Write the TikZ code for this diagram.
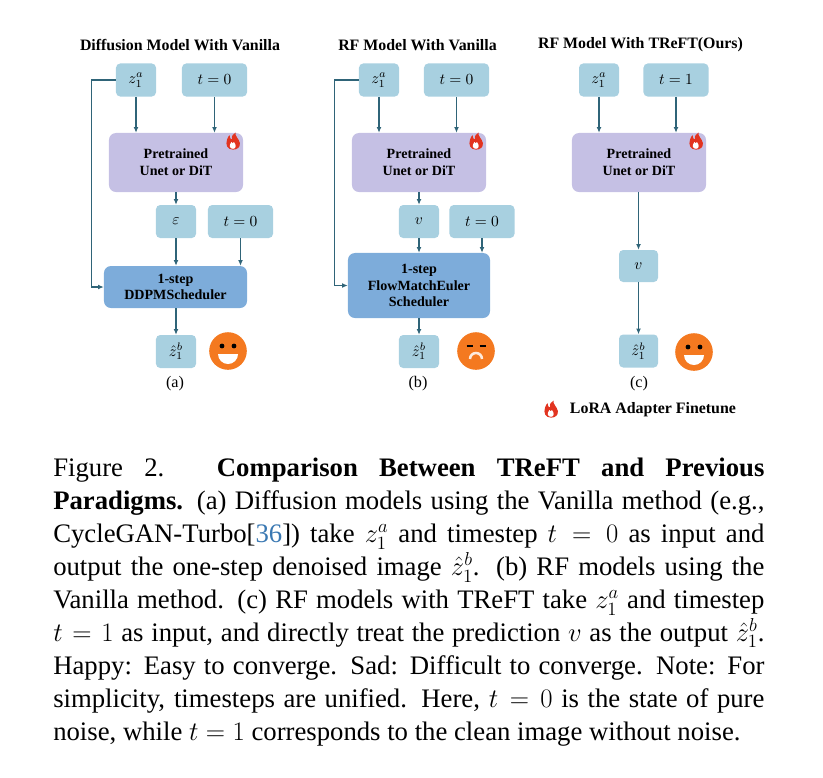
\RequirePackage{fix-cm}
\documentclass[tikz,border=0pt]{standalone}
\usepackage{fontspec}
\setmainfont{Liberation Serif}
\usetikzlibrary{arrows.meta,positioning,calc}

\definecolor{boxblue}{RGB}{168,208,224}
\definecolor{boxpurple}{RGB}{197,192,228}
\definecolor{schblue}{RGB}{125,172,218}
\definecolor{arrowc}{RGB}{47,100,120}
\definecolor{faceorange}{RGB}{244,121,32}
\definecolor{flamered}{RGB}{226,52,32}
\definecolor{citeblue}{RGB}{58,120,178}

\tikzset{
  lbox/.style={fill=boxblue, rounded corners=3pt, minimum height=0.825cm, inner sep=0pt, font=\fontsize{11}{13}\selectfont},
  unet/.style={fill=boxpurple, rounded corners=5pt, minimum width=3.35cm, minimum height=1.475cm, align=center, inner sep=0pt, font=\fontsize{10}{12}\selectfont\bfseries},
  sched/.style={fill=schblue, rounded corners=5pt, align=center, inner sep=0pt, font=\fontsize{10}{12}\selectfont\bfseries},
  arr/.style={-{Latex[length=4pt,width=3.5pt]}, arrowc, line width=0.75pt},
  paneltitle/.style={font=\fontsize{11.3}{13}\selectfont\bfseries},
  sublabel/.style={font=\fontsize{11.5}{13}\selectfont},
  captext/.style={text width=17.775cm, align=justify, inner sep=0pt, font=\fontsize{19}{23.4}\selectfont},
  flame/.pic={
    \fill[flamered] (0,9) .. controls (-7,9) and (-9,3) .. (-7,-3) .. controls (-6,-6) and (-5,-7) .. (-4,-8)
      .. controls (-4,-5) and (-3,-3) .. (-1,-3) .. controls (-2,-7) and (0,-10) .. (3,-11)
      .. controls (2,-7) and (7,-4) .. (8,1) .. controls (9,6) and (5,9) .. (0,9) -- cycle;
    \fill[white] (0,8) .. controls (-4,8) and (-5,4) .. (-2,0) .. controls (-1,2) and (1,2) .. (1,0)
      .. controls (4,3) and (4,8) .. (0,8) -- cycle;
  },
  smile/.pic={
    \fill[faceorange] (0,0) circle[radius=0.47cm];
    \fill (-6,-5) circle[radius=0.06cm] (6,-5) circle[radius=0.06cm];
    \fill[white] (-10,3) arc[start angle=180, end angle=360, radius=0.25cm] -- cycle;
  },
  frown/.pic={
    \fill[faceorange] (0,0) circle[radius=0.47cm];
    \draw[line width=1.8pt] (-9.5,-5) -- (-3.5,-5) (3.5,-5) -- (9.5,-5);
    \draw[white!85!faceorange, line width=1.8pt] (-6,8) arc[start angle=180, end angle=0, radius=0.15cm];
  },
}

\begin{document}
\begin{tikzpicture}[x=0.025cm, y=-0.025cm]
\useasboundingbox (0,0) rectangle (823,777);

% panel titles
\node[paneltitle] (tia) at (180,45) {Diffusion Model With Vanilla};
\node[paneltitle] (tib) at (417.5,45) {RF Model With Vanilla};
\node[paneltitle] (tic) at (640.5,45) {RF Model With TReFT(Ours)};

% (a) diffusion + vanilla
\node[lbox, minimum width=1cm] (za) at (136,80) {$z_1^a$};
\node[lbox, minimum width=1.625cm] (ta) at (214.5,80) {$t=0$};
\node[unet] (prea) at (176,162.5) {Pretrained\\Unet or DiT};
\pic[scale=0.85] at (233,142) {flame};
\node[lbox, minimum width=1cm] (epsa) at (176,221.5) {$\varepsilon$};
\node[lbox, minimum width=1.625cm] (tta) at (240.5,221.5) {$t=0$};
\node[sched, minimum width=3.575cm, minimum height=1.05cm] (scha) at (175.5,287) {1-step\\DDPMScheduler};
\node[lbox, minimum width=1cm] (outa) at (176,351.5) {$\hat{z}_1^b$};
\pic at (228,351) {smile};
\draw[arr] (za) -- (za |- prea.north);
\draw[arr] (ta) -- (ta |- prea.north);
\draw[arr] (prea.south) -- (epsa.north);
\draw[arr] (epsa) -- (epsa |- scha.north);
\draw[arr] (tta) -- (tta |- scha.north);
\draw[arr] (scha.south -| outa) -- (outa.north);
\draw[arr] (za.west) -- ++(-24,0) |- (scha.west);

% (b) RF + vanilla
\node[lbox, minimum width=1cm] (zb) at (379,80) {$z_1^a$};
\node[lbox, minimum width=1.625cm] (tb) at (456.5,80) {$t=0$};
\node[unet] (preb) at (419,162.5) {Pretrained\\Unet or DiT};
\pic[scale=0.85] at (476,142) {flame};
\node[lbox, minimum width=1cm] (vb) at (419,221.5) {$v$};
\node[lbox, minimum width=1.625cm] (ttb) at (482,221.5) {$t=0$};
\node[sched, minimum width=3.55cm, minimum height=1.625cm] (schb) at (419,285.5) {1-step\\FlowMatchEuler\\Scheduler};
\node[lbox, minimum width=1cm] (outb) at (419,351.5) {$\hat{z}_1^b$};
\pic at (476,351) {frown};
\draw[arr] (zb) -- (zb |- preb.north);
\draw[arr] (tb) -- (tb |- preb.north);
\draw[arr] (preb.south) -- (vb.north);
\draw[arr] (vb) -- (vb |- schb.north);
\draw[arr] (ttb) -- (ttb |- schb.north);
\draw[arr] (schb.south) -- (outb.north);
\draw[arr] (zb.west) -- ++(-24,0) |- (schb.west);

% (c) RF + TReFT
\node[lbox, minimum width=1cm] (zc) at (599,80) {$z_1^a$};
\node[lbox, minimum width=1.625cm] (tc) at (676,80) {$t=1$};
\node[unet] (prec) at (639,162.5) {Pretrained\\Unet or DiT};
\pic[scale=0.85] at (696,142) {flame};
\node[lbox, minimum width=0.975cm, minimum height=0.8cm] (vc) at (638.5,266) {$v$};
\node[lbox, minimum width=0.975cm] (outc) at (638.5,351) {$\hat{z}_1^b$};
\pic at (694,352) {smile};
\draw[arr] (zc) -- (zc |- prec.north);
\draw[arr] (tc) -- (tc |- prec.north);
\draw[arr] (prec.south -| vc) -- (vc.north);
\draw[arr] (vc) -- (outc);

\foreach \p/\x in {a/175,b/418,c/639} {
  \node[sublabel] (lab\p) at (\x,384) {(\p)};
}

% legend
\pic[scale=0.85] at (551,410) {flame};
\node[paneltitle, anchor=west] (lora) at (565,410) {LoRA Adapter Finetune};

% caption
\node[captext, anchor=north west] (cap) at (53,458) {Figure 2. \textbf{Comparison Between TReFT and Previous}\linebreak
\textbf{Paradigms.} (a) Diffusion models using the Vanilla method (e.g.,\linebreak
CycleGAN-Turbo[\textcolor{citeblue}{36}]) take $z_1^a$ and timestep $t=0$ as input and\linebreak
output the one-step denoised image $\hat{z}_1^b$. (b) RF models using the\linebreak
Vanilla method. (c) RF models with TReFT take $z_1^a$ and timestep\linebreak
$t=1$ as input, and directly treat the prediction $v$ as the output $\hat{z}_1^b$.\linebreak
Happy: Easy to converge. Sad: Difficult to converge. Note: For\linebreak
simplicity, timesteps are unified. Here, $t=0$ is the state of pure\linebreak
noise, while $t=1$ corresponds to the clean image without noise.};
\end{tikzpicture}
\end{document}
